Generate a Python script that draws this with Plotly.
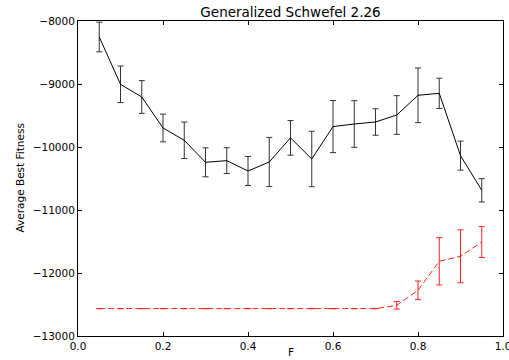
import plotly.graph_objects as go

F = [0.05, 0.10, 0.15, 0.20, 0.25, 0.30, 0.35, 0.40, 0.45, 0.50,
     0.55, 0.60, 0.65, 0.70, 0.75, 0.80, 0.85, 0.90, 0.95]

black_mean = [-8254, -9005, -9206, -9698, -9894, -10243, -10216, -10381, -10238, -9855,
              -10190, -9676, -9635, -9603, -9492, -9179, -9148, -10137, -10687]
black_err = [235, 290, 260, 220, 290, 230, 205, 230, 390, 275,
             440, 413, 370, 210, 307, 434, 240, 230, 185]

red_mean = [-12565, -12565, -12565, -12565, -12565, -12565, -12565, -12565, -12565, -12565,
            -12565, -12565, -12565, -12565, -12513, -12275, -11814, -11735, -11508]
red_err = [0, 0, 0, 0, 0, 0, 0, 0, 0, 0,
           0, 0, 0, 0, 60, 148, 375, 420, 245]

x_ticks = [0.0, 0.2, 0.4, 0.6, 0.8, 1.0]
y_ticks = [-13000, -12000, -11000, -10000, -9000, -8000]

font = "DejaVu Sans"

fig = go.Figure()
fig.add_trace(go.Scatter(
    x=F, y=black_mean, mode="lines",
    line=dict(color="black", width=1),
    error_y=dict(type="data", array=black_err, visible=True,
                 color="#333333", thickness=1, width=3),
    showlegend=False,
))
fig.add_trace(go.Scatter(
    x=F, y=red_mean, mode="lines",
    line=dict(color="#ff2020", width=1, dash="6px,3px"),
    error_y=dict(type="data", array=red_err, visible=True,
                 color="#ff2020", thickness=1, width=3),
    showlegend=False,
))

axis_common = dict(
    showgrid=False, zeroline=False, showline=True, linecolor="black", linewidth=1,
    mirror="ticks", ticks="inside", ticklen=4, tickwidth=1, tickcolor="black",
    tickfont=dict(family=font, size=10.5, color="black"),
    ticklabeloverflow="allow", automargin=False,
)

fig.update_layout(
    width=509, height=360,
    margin=dict(l=78, r=6, t=21, b=24, autoexpand=False),
    paper_bgcolor="white", plot_bgcolor="white",
    title=dict(text="Generalized Schwefel 2.26", x=0.5, xref="paper", xanchor="center",
               y=0.967, yanchor="middle",
               font=dict(family=font, size=13.5, color="black")),
    xaxis=dict(range=[0, 1], tickvals=x_ticks, ticktext=[f"{v:.1f}" for v in x_ticks],
               **axis_common),
    yaxis=dict(range=[-13000, -8000], tickvals=y_ticks,
               ticktext=["\u2212" + str(abs(v)) for v in y_ticks],
               **axis_common),
    annotations=[
        dict(text="F", xref="paper", yref="paper", x=0.5, y=0, yshift=-16,
             xanchor="center", yanchor="middle", showarrow=False,
             font=dict(family=font, size=10.5, color="black")),
        dict(text="Average Best Fitness", xref="paper", yref="paper", x=0, y=0.5,
             xshift=-59, xanchor="center", yanchor="middle", textangle=-90,
             showarrow=False, font=dict(family=font, size=10.5, color="black")),
    ],
)

fig.write_html("out.html", config={"displayModeBar": False},
               post_script="document.body.style.margin='0';")
